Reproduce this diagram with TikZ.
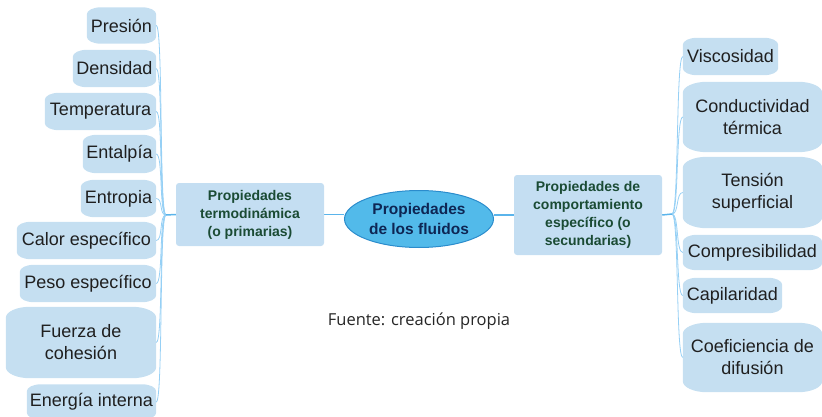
\documentclass[tikz,border=0pt]{standalone}
\usepackage{fontspec}
\setmainfont{Liberation Sans}
\newfontfamily\capfont{Open Sans}
\usetikzlibrary{backgrounds,shapes.geometric,calc}
\definecolor{leaffill}{RGB}{197,223,241}
\definecolor{catfill}{RGB}{196,222,242}
\definecolor{ellfill}{RGB}{82,186,234}
\definecolor{elldraw}{RGB}{43,140,204}
\definecolor{cattext}{RGB}{26,75,52}
\definecolor{elltext}{RGB}{14,38,84}
\definecolor{thinline}{RGB}{150,208,245}
\definecolor{thickline}{RGB}{90,180,235}
\newcommand\lf[6]{\node[leaf, minimum width=#4, minimum height=#5] (#1) at (#2,#3) {#6};}
% #1 node, #2 x-radius, #3 y-radius of the elliptical corners
\newcommand\leafbg[3]{\fill[leaffill]
  ($(#1.north west)+(0,#3)$) .. controls +(0,-0.55*#3) and +(-0.55*#2,0) .. ($(#1.north west)+(#2,0)$)
  -- ($(#1.north east)+(-#2,0)$) .. controls +(0.55*#2,0) and +(0,-0.55*#3) .. ($(#1.north east)+(0,#3)$)
  -- ($(#1.south east)+(0,-#3)$) .. controls +(0,0.55*#3) and +(0.55*#2,0) .. ($(#1.south east)+(-#2,0)$)
  -- ($(#1.south west)+(#2,0)$) .. controls +(-0.55*#2,0) and +(0,0.55*#3) .. ($(#1.south west)+(0,-#3)$)
  -- cycle;}
\begin{document}
\begin{tikzpicture}[x=1pt,y=-1pt,
  leaf/.style={inner sep=0pt, align=center, font=\fontsize{18}{22}\selectfont, text=black!88},
  catbox/.style={rounded corners=3pt, fill=catfill, inner sep=0pt, align=center,
     font=\fontsize{14}{18}\selectfont\bfseries, text=cattext},
  thinconn/.style={draw=thinline, line width=0.8pt},
  thickconn/.style={draw=thickline, line width=1.5pt}]
\useasboundingbox (0,0) rectangle (822,417);
% left leaves
\lf{pres}{121.5}{25.5}{69}{36}{Presión}
\lf{dens}{114.5}{68.5}{83}{37}{Densidad}
\lf{temp}{100.5}{111.5}{111}{37}{Temperatura}
\lf{enta}{119.5}{154}{73}{38}{Entalpía}
\lf{entr}{118.5}{198.5}{75}{37}{Entropia}
\lf{calo}{86.5}{240.5}{139}{37}{Calor específico}
\lf{peso}{88}{283.5}{136}{37}{Peso específico}
\lf{fuer}{81}{342.5}{150}{71}{Fuerza de\\cohesión}
\lf{ener}{91.5}{402}{129}{35}{Energía interna}
% right leaves
\lf{visc}{730.5}{56.5}{95}{37}{Viscosidad}
\lf{cond}{752.5}{117}{139}{70}{Conductividad\\térmica}
\lf{tens}{752.5}{192.5}{139}{71}{Tensión\\superficial}
\lf{comp}{752.5}{252.5}{139}{35}{Compresibilidad}
\lf{capi}{732.5}{295.5}{99}{35}{Capilaridad}
\lf{coef}{752.5}{357.5}{139}{69}{Coeficiencia de\\difusión}
% categories
\node[catbox, minimum width=148, minimum height=63] (lc) at (250,214.5) {Propiedades\\termodinámica\\(o primarias)};
\node[catbox, minimum width=148, minimum height=80] (rc) at (588,215) {Propiedades de\\comportamiento\\específico (o\\secundarias)};
\node[ellipse, fill=ellfill, draw=elldraw, line width=1pt, minimum width=149, minimum height=57,
  inner sep=0pt, align=center, font=\fontsize{15.5}{20}\selectfont\bfseries, text=elltext] (root) at (419,219) {Propiedades\\de los fluidos};
\node[font=\capfont\fontsize{16.5}{20}\selectfont, text=black!85] (cap) at (419,321) {Fuente: creación propia};
\coordinate (hl) at (166,215);
\coordinate (hr) at (672,214);
\begin{scope}[on background layer]
  \foreach \n in {pres,dens,temp,enta,entr,calo,peso,ener,visc,comp,capi} {\leafbg{\n}{14}{7}}
  \foreach \n in {fuer,cond,tens,coef} {\leafbg{\n}{24}{11}}
  \foreach \n in {pres,dens,temp,enta,entr,calo,peso,fuer,ener}
    {\draw[thinconn] (hl) .. controls +(-7,0) and +(7,0) .. (\n.east);}
  \foreach \n in {visc,cond,tens,comp,capi,coef}
    {\draw[thinconn] (hr) .. controls +(7,0) and +(-7,0) .. (\n.west);}
  \draw[thickconn] (hl) -- (lc.west);
  \draw[thickconn] (lc.east) -- (lc.east -| root.west);
  \draw[thickconn] (rc.west -| root.east) -- (rc.west);
  \draw[thickconn] (rc.east) -- (hr);
\end{scope}
\end{tikzpicture}
\end{document}
